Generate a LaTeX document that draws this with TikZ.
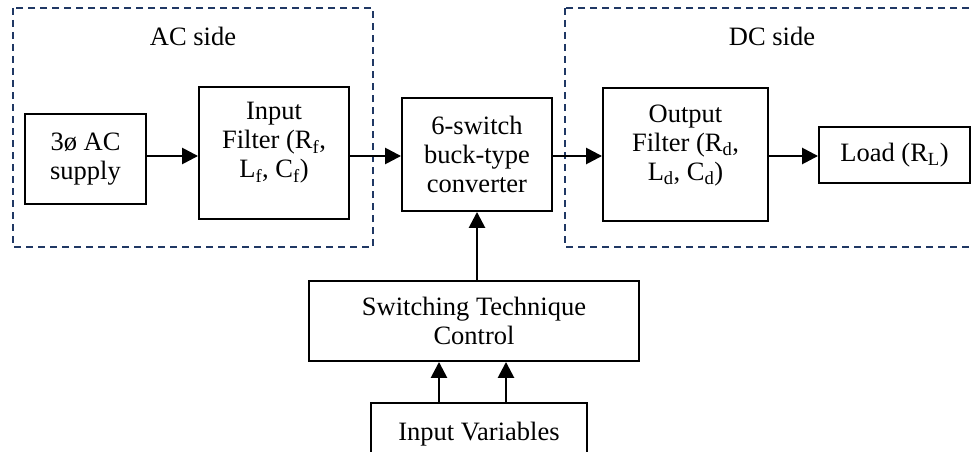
\documentclass[tikz,border=0pt]{standalone}
\usepackage{fontspec}
\setmainfont{Liberation Serif}
\usetikzlibrary{arrows.meta}
\definecolor{navy}{HTML}{203864}
\begin{document}
\begin{tikzpicture}[x=1pt,y=-1pt,
  blk/.style={draw=black, line width=1.9pt, align=center, inner sep=0pt,
    font=\fontsize{26.5}{29}\selectfont},
  region/.style={draw=navy, line width=1.4pt, dash pattern=on 7pt off 5pt},
  lbl/.style={inner sep=0pt, align=center, font=\fontsize{26.5}{29}\selectfont},
  arr/.style={line width=2.6pt, -{Triangle[length=16pt,width=16pt]}}]
\useasboundingbox (0,0) rectangle (972,452);
\clip (0,0) rectangle (972,452);
\fill[white] (0,0) rectangle (972,452);
% dashed regions
\draw[region] (13,8) rectangle (373,247);
\draw[region] (565,8) rectangle (990,247);
\node[lbl] (aclbl) at (193,36) {AC side};
\node[lbl] (dclbl) at (772,36) {DC side};
% row coordinate
\coordinate (row) at (0,156);
% blocks
\node[blk, minimum width=121pt, minimum height=90pt] (supply) at (85.5,159) {3ø AC\\supply};
\node[blk, minimum width=150pt, minimum height=132pt] (infilt) at (274,153) {};
\node[lbl] (infilttext) at ([yshift=10pt]infilt.center) {Input\\Filter (R\textsubscript{f},\\L\textsubscript{f}, C\textsubscript{f})};
\node[blk, minimum width=150pt, minimum height=113pt] (conv) at (477,154.5) {6-switch\\buck-type\\converter};
\node[blk, minimum width=165pt, minimum height=133pt] (outfilt) at (685.5,154.5) {};
\node[lbl] (outfilttext) at ([yshift=9pt]outfilt.center) {Output\\Filter (R\textsubscript{d},\\L\textsubscript{d}, C\textsubscript{d})};
\node[blk, minimum width=151pt, minimum height=56pt] (load) at (894.5,155) {Load (R\textsubscript{L})};
\node[blk, minimum width=330pt, minimum height=80pt] (ctrl) at (474,321) {Switching Technique\\Control};
\node[blk, minimum width=216pt, minimum height=62pt] (invars) at (479,434) {Input Variables};
% connectors
\draw[arr] (supply.east |- row) -- (infilt.west |- row);
\draw[arr] (infilt.east |- row) -- (conv.west |- row);
\draw[arr] (conv.east |- row) -- (outfilt.west |- row);
\draw[arr] (outfilt.east |- row) -- (load.west |- row);
\draw[arr] (ctrl.north -| conv.south) -- (conv.south);
\coordinate (ina) at (439,0);
\coordinate (inb) at (506,0);
\draw[arr] (invars.north -| ina) -- (ctrl.south -| ina);
\draw[arr] (invars.north -| inb) -- (ctrl.south -| inb);
\end{tikzpicture}
\end{document}
